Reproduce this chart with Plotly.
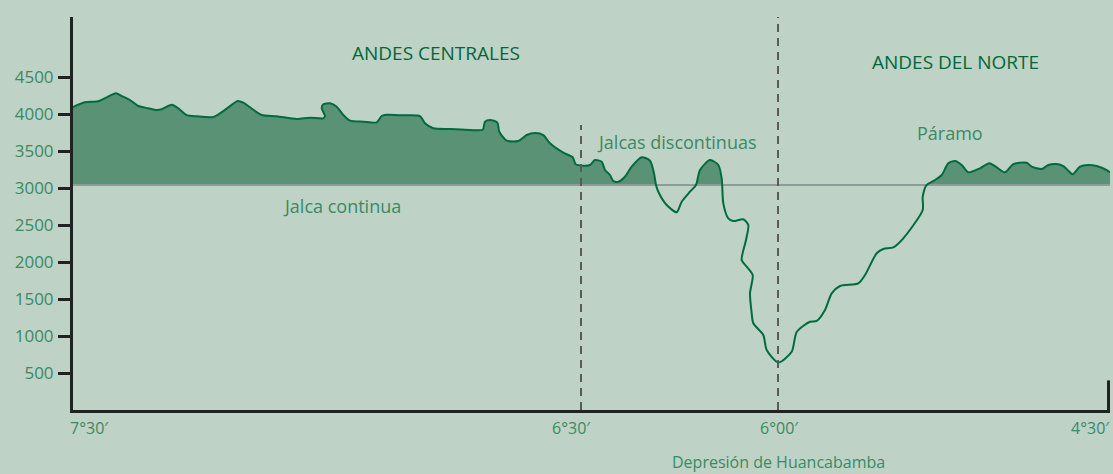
import plotly.graph_objects as go

# Profile: distance along the section (schematic units) and elevation (m)
distance = [0, 12, 25, 33.7, 43, 48.7, 57, 65.3, 75.3, 83.7, 88.7, 98.7, 105.3, 113.7, 123.7, 140.3,
            153.7, 164.7, 170.3, 177, 188.7, 203.7, 223.7, 237, 250.3, 252, 248.7, 250.3, 257, 263.7,
            270.3, 277, 290.3, 303.7, 308.7, 313.7, 327, 347, 352, 360.3, 377, 397, 409.7, 412, 417,
            424.3, 426.3, 433.7, 445.3, 453.7, 462, 470.3, 477, 490.3, 499.7, 502.7, 510.3, 517, 522,
            528.7, 532, 537, 540.3, 545.3, 552, 558.7, 568.7, 577, 581, 583, 585.3, 593.7, 603.7, 608.7,
            617, 623, 627, 637, 645.3, 648.7, 650.3, 655.3, 660.3, 670.3, 675.3, 673, 668.7, 673.7,
            679.7, 677, 678.7, 680.3, 690.3, 693.7, 705.3, 718.7, 723.7, 737, 743.7, 752, 758.7, 767,
            785.3, 792, 803.7, 810.3, 820.3, 830.3, 849.7, 849.7, 853.7, 862, 868.7, 875.3, 882, 888.7,
            895.3, 907, 916.3, 922, 932, 940.3, 953.7, 958.7, 968.7, 975.3, 983.7, 990.3, 995.3, 999.7,
            1007, 1015.3, 1023.7, 1033.7, 1037]
elevation = [4095, 4158, 4172, 4226, 4280, 4243, 4189, 4108, 4077, 4054, 4064, 4126, 4077, 3986, 3969, 3960,
             4072, 4176, 4153, 4091, 3986, 3969, 3933, 3950, 3942, 3973, 4077, 4131, 4145, 4099,
             3986, 3910, 3896, 3888, 3973, 3991, 3982, 3973, 3875, 3807, 3797, 3784, 3788, 3896, 3919,
             3888, 3761, 3639, 3635, 3716, 3743, 3716, 3604, 3477, 3415, 3320, 3301, 3311, 3378,
             3355, 3243, 3176, 3095, 3085, 3153, 3288, 3415, 3369, 3199, 3041, 2950, 2770, 2672, 2815,
             2950, 3041, 3243, 3378, 3311, 3131, 2793, 2591, 2554, 2577, 2500, 2297, 2027, 1937,
             1824, 1577, 1307, 1172, 1014, 811, 642, 788, 1054, 1193, 1203, 1351, 1577, 1676,
             1712, 1824, 2118, 2176, 2199, 2320, 2703, 2878, 3041, 3108, 3176, 3334, 3365, 3311,
             3212, 3266, 3334, 3297, 3212, 3324, 3342, 3288, 3257, 3311, 3324, 3297, 3234, 3185,
             3288, 3311, 3297, 3243, 3209]

jalca_limit = 3040          # lower limit of jalca / páramo (m)
y_ticks = [500, 1000, 1500, 2000, 2500, 3000, 3500, 4000, 4500]
lat_pos = [0, 508, 705, 1037]
lat_labels = ["7°30′", "6°30′", "6°00′", "4°30′"]
divider_pos = [508, 705]
divider_top = [3850, 5400]

BG = "#bed2c6"
FILL = "#5a9276"
LINE = "#006b3d"
TXT = "#3a8a63"
DARK = "#00683a"
FONT = "Open Sans"

# clipped profile (only the part above the limit) for the shaded area
fx, fy = [], []
for i in range(len(distance)):
    x, y = distance[i], elevation[i]
    if i > 0:
        x0, y0 = distance[i - 1], elevation[i - 1]
        if (y0 - jalca_limit) * (y - jalca_limit) < 0:
            t = (jalca_limit - y0) / (y - y0)
            fx.append(x0 + t * (x - x0))
            fy.append(jalca_limit)
    fx.append(x)
    fy.append(max(y, jalca_limit))

fig = go.Figure()
fig.add_trace(go.Scatter(x=[distance[0], distance[-1]], y=[jalca_limit, jalca_limit], mode="lines",
                         line=dict(color="#8e9e96", width=2), hoverinfo="skip", showlegend=False))
fig.add_trace(go.Scatter(x=fx, y=fy, mode="lines", fill="tonexty", fillcolor=FILL,
                         line=dict(width=0), hoverinfo="skip", showlegend=False))
fig.add_trace(go.Scatter(x=[distance[0], distance[-1]], y=[jalca_limit, jalca_limit], mode="lines",
                         line=dict(color="#8e9e96", width=2), hoverinfo="skip", showlegend=False))
fig.add_trace(go.Scatter(x=distance, y=elevation, mode="lines",
                         line=dict(color=LINE, width=2, shape="spline", smoothing=0.7),
                         showlegend=False))

for xp, yt in zip(divider_pos, divider_top):
    fig.add_shape(type="line", x0=xp, x1=xp, y0=0, y1=yt, xref="x", yref="y",
                  line=dict(color="#5a5a5a", width=2, dash="8px,6px"))
fig.add_shape(type="line", x0=lat_pos[-1] - 1.5, x1=lat_pos[-1] - 1.5, y0=0, y1=400, xref="x", yref="y",
              line=dict(color="#222222", width=3))

anchors = ["left", "center", "center", "right"]
shifts = [-5, -10, 1, 2]
for xp, lab, an, sh in zip(lat_pos, lat_labels, anchors, shifts):
    fig.add_annotation(x=xp, y=-0.046, xref="x", yref="paper", text=lab, showarrow=False,
                       xanchor=an, yanchor="middle", xshift=sh,
                       font=dict(color=TXT, size=16, family=FONT))

labels = [
    ("ANDES CENTRALES", 363, 4830, DARK, 19),
    ("ANDES DEL NORTE", 882, 4700, DARK, 19),
    ("Jalca continua", 269, 2760, TXT, 18),
    ("Jalcas discontinuas", 604, 3625, TXT, 18),
    ("Páramo", 877, 3745, TXT, 18),
]
for text, xp, yp, col, sz in labels:
    fig.add_annotation(x=xp, y=yp, xref="x", yref="y", text=text, showarrow=False,
                       font=dict(color=col, size=sz, family=FONT))
fig.add_annotation(x=705, y=-0.133, xref="x", yref="paper", text="Depresión de Huancabamba",
                   showarrow=False, yanchor="middle", font=dict(color=TXT, size=16, family=FONT))

fig.update_layout(
    width=1113, height=474,
    margin=dict(l=73, r=3, t=17, b=64),
    paper_bgcolor=BG, plot_bgcolor=BG,
    showlegend=False,
    xaxis=dict(range=[0, 1037], showgrid=False, zeroline=False, showline=True,
               linecolor="#222222", linewidth=3, showticklabels=False, ticks=""),
    yaxis=dict(range=[0, 5311], showgrid=False, zeroline=False, showline=True,
               linecolor="#222222", linewidth=3, tickvals=y_ticks, ticks="outside",
               ticklen=12, tickwidth=3, tickcolor="#222222", ticklabelstandoff=1,
               tickfont=dict(color=TXT, size=17, family=FONT)),
)

fig.write_html("out.html", config={"displayModeBar": False},
               post_script="document.body.style.margin='0';document.body.style.backgroundColor='#bed2c6';")
